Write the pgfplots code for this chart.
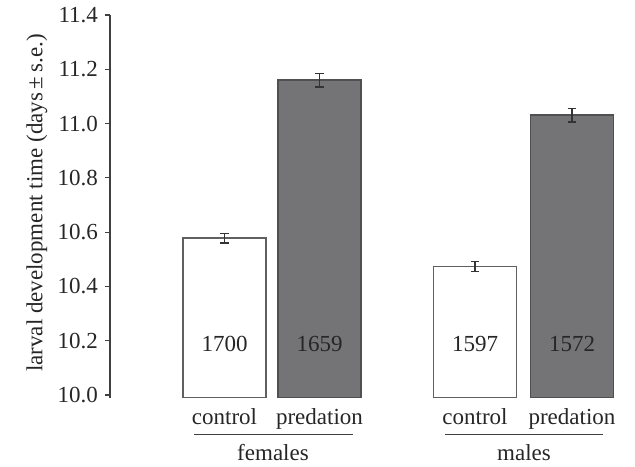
\documentclass[border=0pt]{standalone}
\usepackage{fontspec}
\setmainfont{Liberation Serif}
\usepackage{pgfplots}
\pgfplotsset{compat=1.18}
\definecolor{barfill}{HTML}{747476}
\definecolor{baredge}{HTML}{505052}
\definecolor{ctledge}{HTML}{606060}
\begin{document}
\begin{tikzpicture}[font=\fontsize{11.5}{13.5}\selectfont]
\begin{axis}[
  x=0.5pt, y=135.7pt,
  xmin=110, xmax=620,
  ymin=9.99, ymax=11.4,
  axis x line=none,
  axis y line=left,
  y axis line style={-, black!75, line width=0.6pt},
  ytick={10,10.2,10.4,10.6,10.8,11.0,11.2,11.4},
  yticklabels={10.0,10.2,10.4,10.6,10.8,11.0,11.2,11.4},
  tick align=outside,
  major tick length=2.5pt,
  tick style={black!75, line width=0.6pt},
  yticklabel style={font=\fontsize{11.5}{13.5}\selectfont, black!85},
  clip mode=individual,
  ybar, bar shift=0pt, bar width=41.5pt,
  error bars/y dir=both, error bars/y explicit,
  error bars/error bar style={black!80, line width=0.6pt},
  error bars/error mark options={rotate=90, mark size=2.2pt, black!80, line width=0.6pt},
]
\addplot[fill=white, draw=ctledge, line width=0.7pt] coordinates {
  (224.5,10.578) +- (0,0.018)
  (475,10.474) +- (0,0.018)
};
\addplot[fill=barfill, draw=baredge, line width=0.7pt] coordinates {
  (319.5,11.160) +- (0,0.025)
  (572,11.031) +- (0,0.025)
};
\node[black!85, anchor=base] at (axis cs:224.5,10.1595) {1700};
\node[black!85, anchor=base] at (axis cs:319.5,10.1595) {1659};
\node[black!85, anchor=base] at (axis cs:475,10.1595) {1597};
\node[black!85, anchor=base] at (axis cs:572,10.1595) {1572};
\node[black!85, anchor=base] at (axis cs:224.5,9.8895) {control};
\node[black!85, anchor=base] at (axis cs:319.5,9.8895) {predation};
\node[black!85, anchor=base] at (axis cs:475,9.8895) {control};
\node[black!85, anchor=base] at (axis cs:572,9.8895) {predation};
\draw[black!75, line width=0.6pt] (axis cs:194,9.8545) -- (axis cs:353,9.8545);
\draw[black!75, line width=0.6pt] (axis cs:445,9.8545) -- (axis cs:603,9.8545);
\node[black!85, anchor=base] at (axis cs:273,9.7605) {females};
\node[black!85, anchor=base] at (axis cs:524,9.7605) {males};
\node[rotate=90, black!85] at (axis cs:37,10.707) {larval development time (days\,±\,s.e.)};
\path (axis cs:0,9.7421) rectangle (axis cs:635,11.4554);
\end{axis}
\end{tikzpicture}
\end{document}
